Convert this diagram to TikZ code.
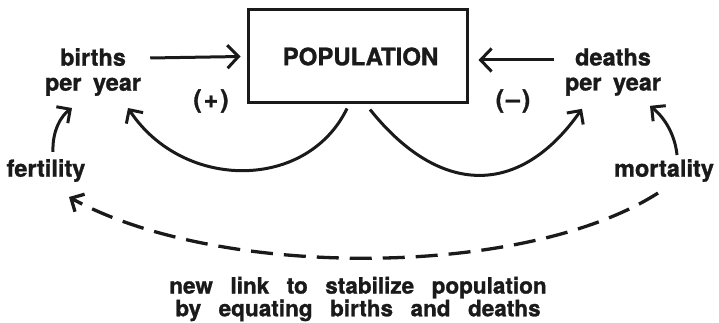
\documentclass[tikz,border=0pt]{standalone}
\usepackage{fontspec}
\setmainfont{TeX Gyre Heros}[BoldFeatures={FakeBold=1.2}]
\newfontfamily\widesp{TeX Gyre Heros}[WordSpace=2.8,BoldFeatures={FakeBold=1.2}]
\usetikzlibrary{arrows.meta,calc}
\definecolor{ink}{HTML}{1A1A1A}
\begin{document}
\begin{tikzpicture}[x=1pt,y=-1pt,
  lab/.style={font=\fontsize{23.5}{25}\selectfont\bfseries, inner sep=0pt, align=center, text=ink},
  sign/.style={font=\fontsize{25}{25}\selectfont\bfseries, inner sep=0pt, text=ink},
  note/.style={font=\fontsize{22.5}{21}\selectfont\widesp\bfseries, inner sep=0pt, align=center, text=ink},
  popbox/.style={draw=ink, line width=3pt, minimum width=219pt, minimum height=93pt, inner sep=0pt,
    font=\fontsize{24}{25}\selectfont\bfseries, text=ink},
  flow/.style={draw=ink, line width=3pt, -{Straight Barb[length=11pt,width=23pt]}},
  link/.style={draw=ink, line width=3pt, -{Straight Barb[length=10pt,width=20pt]}},
  newlink/.style={draw=ink, line width=3.3pt, dash pattern=on 22pt off 11pt,
    -{Straight Barb[length=10pt,width=20pt]}}]
\useasboundingbox (0,0) rectangle (719,323);

\node[popbox] (pop) at (357.5,56.5) {\hspace{6pt}POPULATION};
\node[lab] (births) at (93,72) {births\\per\hspace{5pt} year};
\node[lab] (deaths) at (613,72) {deaths\\per\hspace{5pt} year};
\node[lab] (fert) at (46,170.5) {fertility};
\node[lab] (mort) at (664,170.5) {mortality};
\node[sign] (plus) at (211,101) {(\kern2pt+\kern2pt)};
\node[sign] (minus) at (513,101) {(\kern2pt\textendash\kern2pt)};
\node[note] (newtext) at (358,299) {new link to stabilize population\\by equating births and deaths};

\draw[flow] ($(births.east)+(9,-14)$) -- ($(pop.west)+(-6,0)$);
\draw[flow] ($(deaths.west)+(-11,-12)$) -- ($(pop.east)+(10,3.5)$);

\draw[link] ($(pop.south)+(-10.5,4)$) .. controls (307,191) and (183,191) .. ($(births.south)+(35,12)$);
\draw[link] ($(pop.south)+(12.5,5)$) .. controls (440,197) and (520,197) .. ($(deaths.south)+(-31,13)$);

\draw[link] ($(fert.north)+(7,-7)$) .. controls (52,130) and (62,115) .. ($(births.south)+(-21,12)$);
\draw[link] ($(mort.north)+(13,-4)$) .. controls (675,135) and (665,118) .. ($(deaths.south)+(37,10)$);

\draw[newlink] ($(mort.south)+(-6,11)$) .. controls (524,279) and (218,279) .. ($(fert.south)+(23,15)$);
\end{tikzpicture}
\end{document}
